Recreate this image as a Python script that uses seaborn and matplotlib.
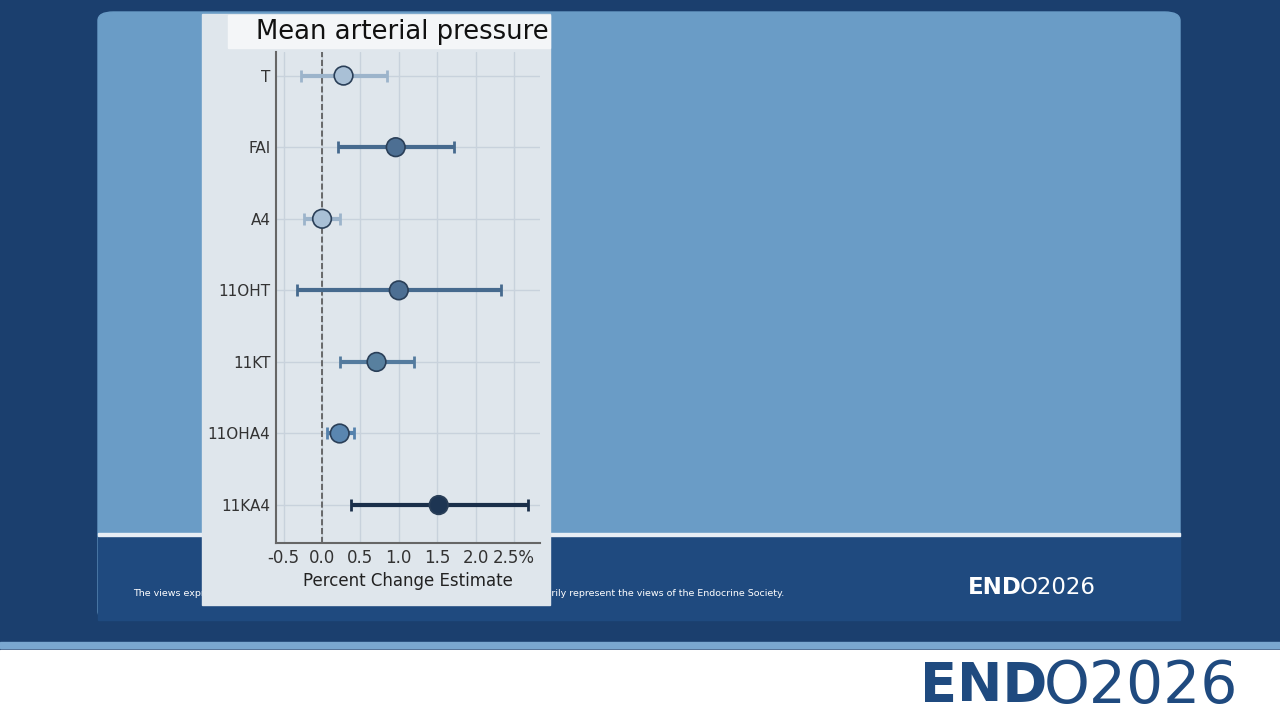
import matplotlib.pyplot as plt
import matplotlib.patches as mpatches
import pandas as pd
import seaborn as sns

# values
hormones = ['T', 'FAI', 'A4', '11OHT', '11KT', '11OHA4', '11KA4']
estimate = [0.28, 0.96, 0.00, 1.00, 0.71, 0.23, 1.52]
ci_low = [-0.27, 0.21, -0.23, -0.32, 0.24, 0.07, 0.38]
ci_high = [0.84, 1.72, 0.24, 2.33, 1.20, 0.41, 2.69]
dot_colors = ['#a9c0d6', '#4d6f93', '#a9c0d6', '#4d6f93', '#58809f', '#5a86b0', '#1d3553']
bar_colors = ['#9cb4cb', '#466a8e', '#9cb4cb', '#466a8e', '#547b9e', '#5582ad', '#1a2f4a']
xticks = [-0.5, 0.0, 0.5, 1.0, 1.5, 2.0, 2.5]
xticklabels = ['-0.5', '0.0', '0.5', '1.0', '1.5', '2.0', '2.5%']

df = pd.DataFrame({'Hormone': hormones, 'Estimate': estimate, 'Low': ci_low, 'High': ci_high})
df['pos'] = range(len(df))

sns.set_theme(style='whitegrid')
fig = plt.figure(figsize=(12.8, 7.2), dpi=100)
fig.patch.set_facecolor('#1b3f6e')

def px_rect(x0, y0, x1, y1, color, rounded=False, z=0):
    # pixel coords (top-left origin) to figure fraction
    if rounded:
        p = mpatches.FancyBboxPatch((x0 / 1280, 1 - y1 / 720), (x1 - x0) / 1280, (y1 - y0) / 720,
                                    boxstyle='round,pad=0,rounding_size=0.012',
                                    transform=fig.transFigure, color=color, zorder=z)
    else:
        p = mpatches.Rectangle((x0 / 1280, 1 - y1 / 720), (x1 - x0) / 1280, (y1 - y0) / 720,
                               transform=fig.transFigure, color=color, zorder=z)
    fig.patches.append(p)

# slide background
px_rect(98, 12, 1180, 620, '#6a9cc6', rounded=True)
px_rect(98, 535, 1180, 620, '#1f4a7f')
px_rect(98, 533, 1180, 536, '#e8eef5')
px_rect(0, 642, 1280, 648, '#7aa7d0')
px_rect(0, 650, 1280, 720, '#ffffff')
fig.text(133 / 1280, 1 - 593 / 720, 'The views expressed in this presentation are those of the presenter and do not '
         'necessarily represent the views of the Endocrine Society.', color='white', fontsize=6.8,
         va='center', zorder=0.5)
fig.text(968 / 1280, 1 - 588 / 720, 'END', color='white', fontsize=16.5, fontweight='bold', va='center')
fig.text(1020 / 1280, 1 - 588 / 720, 'O2026', color='white', fontsize=16.5, va='center')
fig.text(920 / 1280, 1 - 686 / 720, 'END', color='#1f4a7f', fontsize=39, fontweight='bold', va='center')
fig.text(1044 / 1280, 1 - 686 / 720, 'O2026', color='#1f4a7f', fontsize=42, va='center')

# plot panel
px_rect(202, 14, 550, 605, '#dfe6ec', z=1)
px_rect(228, 15, 550, 48, '#f4f6f8', z=2)
fig.text(256 / 1280, 1 - 32 / 720, 'Mean arterial pressure', fontsize=18.6, color='#111111', va='center', zorder=3)

ax = fig.add_axes([276 / 1280, 177 / 720, (540 - 276) / 1280, (543 - 52) / 720])
ax.set_zorder(5)
ax.set_facecolor('#dfe6ec')
for i, row in df.iterrows():
    ax.errorbar(row['Estimate'], row['pos'], xerr=[[row['Estimate'] - row['Low']], [row['High'] - row['Estimate']]],
                fmt='none', ecolor=bar_colors[i], elinewidth=3, capsize=4, capthick=2, zorder=2)
sns.scatterplot(data=df, x='Estimate', y='pos', hue='Hormone', palette=dot_colors, s=180,
                edgecolor='#2a3f58', linewidth=1.2, legend=False, zorder=3, ax=ax)
ax.axvline(0, color='#555555', linestyle='--', linewidth=1.2, zorder=1)
ax.set_xlim(-0.6, 2.84)
ax.set_ylim(6.53, -0.33)
ax.set_yticks(df['pos'])
ax.set_yticklabels(hormones, fontsize=11, color='#333333')
ax.set_xticks(xticks)
ax.set_xticklabels(xticklabels, fontsize=12, color='#333333')
ax.set_xlabel('Percent Change Estimate', fontsize=12, color='#222222')
ax.set_ylabel('')
ax.grid(True, color='#c8d2dc', linewidth=1)
for s in ['top', 'right']:
    ax.spines[s].set_visible(False)
for s in ['left', 'bottom']:
    ax.spines[s].set_color('#666666')
    ax.spines[s].set_linewidth(1.5)
ax.tick_params(axis='both', length=0, pad=4)

fig.savefig('out.png', dpi=100)
